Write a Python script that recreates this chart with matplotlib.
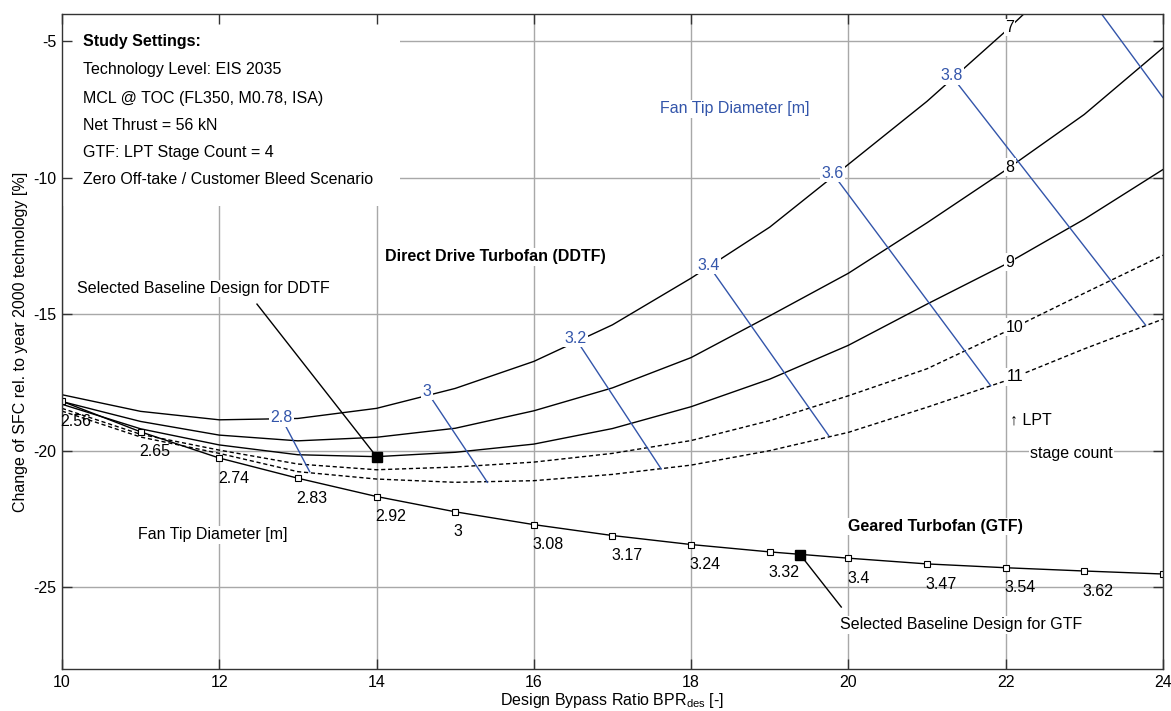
import matplotlib

matplotlib.use("Agg")
import matplotlib.pyplot as plt
from matplotlib.patches import Rectangle

plt.rcParams["font.family"] = ["Liberation Sans", "DejaVu Sans"]
plt.rcParams["mathtext.fontset"] = "custom"
plt.rcParams["mathtext.rm"] = "Liberation Sans"
plt.rcParams["axes.unicode_minus"] = False
plt.rcParams["font.size"] = 11.5

BLUE = "#3355aa"
GRID = "#a8a8a8"
FS = 11.5

# --- data -----------------------------------------------------------------
bpr = [10, 11, 12, 13, 14, 15, 16, 17, 18, 19, 20, 21, 22, 23, 24]

# GTF (LPT stage count = 4)
gtf_sfc = [-18.19, -19.31, -20.27, -21.01, -21.68, -22.24, -22.71, -23.11,
           -23.44, -23.71, -23.94, -24.15, -24.29, -24.41, -24.52]
gtf_diam = ["2.56", "2.65", "2.74", "2.83", "2.92", "3", "3.08", "3.17",
            "3.24", "3.32", "3.4", "3.47", "3.54", "3.62"]

# DDTF, one curve per LPT stage count
ddtf_stages = ["7", "8", "9", "10", "11"]
ddtf_sfc = {
    "7": [-17.95, -18.56, -18.87, -18.82, -18.45, -17.72, -16.73, -15.39,
          -13.68, -11.81, -9.51, -7.20, -4.63, -1.9],
    "8": [-18.20, -18.93, -19.43, -19.64, -19.51, -19.18, -18.54, -17.70,
          -16.59, -15.06, -13.50, -11.65, -9.72, -7.68, -5.24],
    "9": [-18.30, -19.20, -19.79, -20.15, -20.22, -20.06, -19.76, -19.19,
          -18.39, -17.38, -16.14, -14.63, -13.17, -11.52, -9.70],
    "10": [-18.45, -19.40, -19.98, -20.49, -20.70, -20.60, -20.42, -20.10,
           -19.63, -18.90, -17.99, -17.00, -15.64, -14.23, -12.84],
    "11": [-18.55, -19.50, -20.10, -20.77, -21.04, -21.16, -21.10, -20.87,
           -20.53, -20.00, -19.33, -18.41, -17.44, -16.27, -15.18],
}
ddtf_dashed = ["10", "11"]
stage_label_x = [22.05, 22.05, 22.05, 22.12, 22.12]

# constant fan tip diameter lines for DDTF (from stage-7 curve to stage-11 curve)
fan_diam = ["2.8", "3", "3.2", "3.4", "3.6", "3.8", ""]
fan_x0 = [12.79, 14.64, 16.53, 18.22, 19.80, 21.31, 23.22]
fan_y0 = [-18.80, -17.83, -15.89, -13.20, -9.84, -6.26, -4.00]
fan_x1 = [13.15, 15.41, 17.62, 19.75, 21.81, 23.78, 24.00]
fan_y1 = [-20.77, -21.16, -20.67, -19.45, -17.62, -15.40, -7.06]

# selected baseline designs
ddtf_sel = (14.0, -20.22)
gtf_sel = (19.39, -23.82)

settings = ["Study Settings:", "Technology Level: EIS 2035",
            "MCL @ TOC (FL350, M0.78, ISA)", "Net Thrust = 56 kN",
            "GTF: LPT Stage Count = 4", "Zero Off-take / Customer Bleed Scenario"]
settings_y = [-5.0, -6.05, -7.1, -8.1, -9.08, -10.05]

xticks = [10, 12, 14, 16, 18, 20, 22, 24]
yticks = [-25, -20, -15, -10, -5]

# --- figure ------------------------------------------------------------------
fig = plt.figure(figsize=(11.71, 7.11), dpi=100)
ax = fig.add_axes([0.0529, 0.0591, 0.9402, 0.9212])
ax.set_xlim(10, 24)
ax.set_ylim(-28, -4)
ax.set_axisbelow(False)

for xv in xticks:
    ax.axvline(xv, color=GRID, lw=1.0, zorder=1)
for yv in yticks:
    ax.axhline(yv, color=GRID, lw=1.0, zorder=1)

# white area behind the study settings
ax.add_patch(Rectangle((10, -11.05), 4.3, 7.05, facecolor="white",
                       edgecolor="none", zorder=1.5))

bbox_w = dict(facecolor="white", edgecolor="none", pad=1.0)

# DDTF curves
for st, lx in zip(ddtf_stages, stage_label_x):
    ys = ddtf_sfc[st]
    ls = (0, (3, 2)) if st in ddtf_dashed else "-"
    ax.plot(bpr[:len(ys)], ys, color="black", lw=1.0, ls=ls, zorder=2)
    # label value on curve at lx
    i = int(lx) - 10
    ly = ys[i] + (ys[i + 1] - ys[i]) * (lx - int(lx))
    ax.text(lx, ly, st, ha="center", va="center", fontsize=FS,
            bbox=bbox_w, zorder=4)

# fan diameter lines
for lab, x0, y0, x1, y1 in zip(fan_diam, fan_x0, fan_y0, fan_x1, fan_y1):
    ax.plot([x0, x1], [y0, y1], color=BLUE, lw=1.0, zorder=2.2)
    if lab:
        ax.text(x0, y0, lab, color=BLUE, ha="center", va="center",
                fontsize=FS, bbox=bbox_w, zorder=4)

# GTF curve
ax.plot(bpr, gtf_sfc, color="black", lw=1.0, marker="s", ms=5,
        mfc="white", mec="black", mew=0.8, zorder=2.5)
for x, y, lab in zip(bpr, gtf_sfc, gtf_diam):
    ax.annotate(lab, (x, y), xytext=(-1, -14.5), textcoords="offset points",
                ha="left", va="center", fontsize=FS, zorder=3)

# selected designs
ax.plot(*ddtf_sel, marker="s", ms=7, color="black", zorder=3)
ax.plot(*gtf_sel, marker="s", ms=7, color="black", zorder=3)
ax.plot([12.48, ddtf_sel[0]], [-14.63, ddtf_sel[1]], color="black", lw=1.0, zorder=2.6)
ax.plot([gtf_sel[0], 19.91], [gtf_sel[1], -25.73], color="black", lw=1.0, zorder=2.6)
ax.text(10.19, -14.06, "Selected Baseline Design for DDTF", ha="left",
        va="center", fontsize=FS, bbox=bbox_w, zorder=4)
ax.text(19.89, -26.38, "Selected Baseline Design for GTF", ha="left",
        va="center", fontsize=FS, bbox=bbox_w, zorder=4)

# annotations
for s, y in zip(settings, settings_y):
    ax.text(10.27, y, s, ha="left", va="center", fontsize=FS,
            fontweight="bold" if s.startswith("Study") else "normal", zorder=4)
ax.text(14.11, -12.89, "Direct Drive Turbofan (DDTF)", ha="left", va="center",
        fontsize=FS, fontweight="bold", bbox=bbox_w, zorder=4)
ax.text(20.0, -22.78, "Geared Turbofan (GTF)", ha="left", va="center",
        fontsize=FS, fontweight="bold", bbox=bbox_w, zorder=4)
ax.text(17.60, -7.47, "Fan Tip Diameter [m]", color=BLUE, ha="left",
        va="center", fontsize=FS, bbox=bbox_w, zorder=4)
ax.text(10.97, -23.08, "Fan Tip Diameter [m]", ha="left", va="center",
        fontsize=FS, bbox=bbox_w, zorder=4)
ax.text(22.05, -18.87, "\u2191 LPT", ha="left", va="center", fontsize=FS,
        bbox=bbox_w, zorder=4)
ax.text(22.31, -20.09, "stage count", ha="left", va="center", fontsize=FS,
        bbox=bbox_w, zorder=4)

# axes styling
ax.set_xticks(xticks)
ax.set_yticks(yticks)
ax.tick_params(direction="in", length=7, width=1, colors="#333333",
               labelcolor="black", top=True, right=True, labelsize=FS, pad=4)
for sp in ax.spines.values():
    sp.set_color("#333333")
    sp.set_linewidth(1.0)
ax.set_xlabel(r"Design Bypass Ratio BPR$_{\mathregular{des}}$ [-]", fontsize=FS,
              labelpad=1)
ax.set_ylabel("Change of SFC rel. to year 2000 technology [%]", fontsize=FS,
              labelpad=4)

fig.savefig("out.png", dpi=100)
